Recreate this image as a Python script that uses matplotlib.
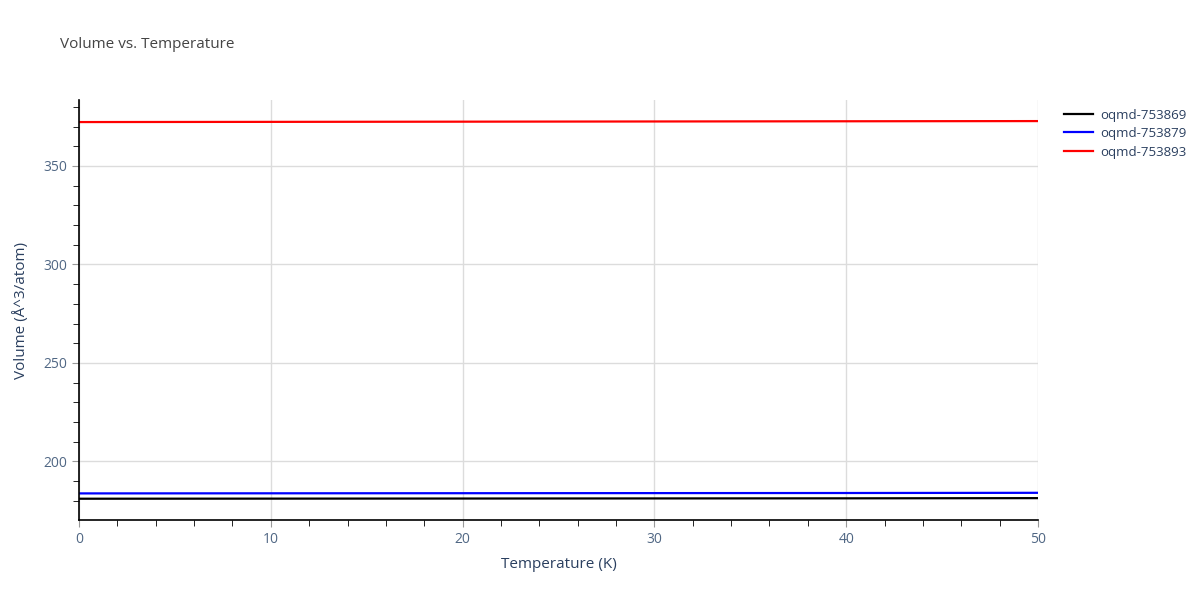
import matplotlib
matplotlib.use("Agg")
import matplotlib.pyplot as plt
from matplotlib.ticker import MultipleLocator

plt.rcParams['font.family'] = ['Open Sans', 'DejaVu Sans']

# data
temperature = [0, 10, 20, 30, 40, 50]
names = ["oqmd-753869", "oqmd-753879", "oqmd-753893"]
vol_753869 = [181.1, 181.15, 181.2, 181.25, 181.3, 181.4]
vol_753879 = [183.8, 183.85, 183.9, 183.95, 184.0, 184.1]
vol_753893 = [372.3, 372.4, 372.5, 372.6, 372.7, 372.8]
colors = ["black", "blue", "red"]

txt = "#2a3f5f"

fig = plt.figure(figsize=(12, 6), dpi=100)
ax = fig.add_axes([79/1200, 1 - 520/600, (1038 - 79)/1200, 420/600])

for vals, name, c in zip([vol_753869, vol_753879, vol_753893], names, colors):
    ax.plot(temperature, vals, color=c, lw=1.6, label=name)

ax.set_xlim(0, 50)
ax.set_ylim(170.3, 383.5)
ax.xaxis.set_major_locator(MultipleLocator(10))
ax.xaxis.set_minor_locator(MultipleLocator(2))
ax.yaxis.set_major_locator(MultipleLocator(50))
ax.yaxis.set_minor_locator(MultipleLocator(10))
ax.grid(True, which="major", color="#dcdcdc", lw=1)
ax.set_axisbelow(True)

for s in ["top", "right"]:
    ax.spines[s].set_visible(False)
for s in ["left", "bottom"]:
    ax.spines[s].set_color("black")
    ax.spines[s].set_linewidth(1.2)

ax.tick_params(which="major", direction="out", length=5, color="#999999",
               labelsize=10, labelcolor="#506784")
ax.tick_params(which="minor", direction="out", length=4, color="black")

ax.set_xlabel("Temperature (K)", fontsize=11, color=txt, labelpad=7)
ax.set_ylabel("Volume (Å^3/atom)", fontsize=11, color=txt, labelpad=10)

fig.text(60/1200, 1 - 45/600, "Volume vs. Temperature", fontsize=11,
         color="#444444", va="center")

leg = ax.legend(loc="upper left", bbox_to_anchor=(1.015, 1.008), frameon=False,
                fontsize=9.5, handlelength=2.2, handletextpad=0.5,
                labelspacing=0.42)
for t in leg.get_texts():
    t.set_color(txt)

fig.savefig("out.png", dpi=100)
